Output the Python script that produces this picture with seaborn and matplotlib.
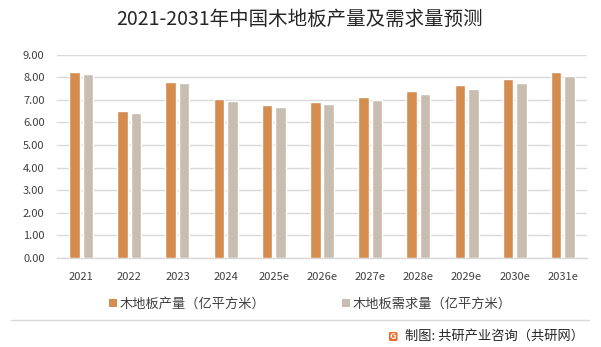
import matplotlib
matplotlib.use("Agg")
import matplotlib.pyplot as plt
import seaborn as sns
import pandas as pd
from matplotlib.patches import Patch, FancyBboxPatch
from matplotlib.lines import Line2D

years = ["2021", "2022", "2023", "2024", "2025e", "2026e", "2027e", "2028e", "2029e", "2030e", "2031e"]
production = [8.23, 6.51, 7.79, 7.04, 6.77, 6.91, 7.13, 7.39, 7.66, 7.92, 8.23]
demand = [8.14, 6.42, 7.75, 6.95, 6.69, 6.82, 7.00, 7.26, 7.48, 7.75, 8.06]
series_names = ["木地板产量（亿平方米）", "木地板需求量（亿平方米）"]
title = "2021-2031年中国木地板产量及需求量预测"
source = "制图: 共研产业咨询（共研网）"

colors = ["#D48C4F", "#C8BDB1"]

df = pd.DataFrame({
    "year": years * 2,
    "value": production + demand,
    "series": [series_names[0]] * len(years) + [series_names[1]] * len(years),
})

sns.set_theme(style="white")
plt.rcParams["font.family"] = ["Noto Sans CJK SC", "DejaVu Sans"]

W, H = 601, 347
fig = plt.figure(figsize=(W / 100, H / 100), dpi=100)
fig.patch.set_facecolor("white")

ax = fig.add_axes([57 / W, (H - 258) / H, 530 / W, (258 - 54.7) / H])
ax.set_facecolor("none")

sns.barplot(data=df, x="year", y="value", hue="series", order=years,
            hue_order=series_names, palette=colors, width=0.56, gap=0.22,
            saturation=1, legend=False, ax=ax, zorder=3)

ax.set_ylim(0, 9)
ax.set_yticks([i for i in range(10)])
ax.set_yticklabels([f"{i:.2f}" for i in range(10)])
ax.yaxis.grid(True, color="#D9D9D9", linewidth=1.0, zorder=0)
ax.set_axisbelow(True)
ax.set_xlabel("")
ax.set_ylabel("")
for s in ["top", "right", "left"]:
    ax.spines[s].set_visible(False)
ax.spines["bottom"].set_color("#D9D9D9")
ax.spines["bottom"].set_linewidth(1.0)
ax.tick_params(axis="both", length=0, labelsize=8, colors="#404040")
ax.tick_params(axis="x", pad=10)
ax.tick_params(axis="y", pad=9)

fig.text(300 / W, 1 - 19 / H, title, ha="center", va="center", fontsize=14, color="#262626")

handles = [Patch(facecolor=c, edgecolor="none") for c in colors]
fig.legend(handles, series_names, loc="center", bbox_to_anchor=(310 / W, 1 - 304 / H),
           ncol=2, frameon=False, fontsize=9.5, handlelength=0.6, handleheight=0.6,
           handletextpad=0.2, columnspacing=5.8, labelcolor="#404040")

fig.add_artist(Line2D([11 / W, 589 / W], [1 - 319.5 / H, 1 - 319.5 / H], color="#D9D9D9",
                      linewidth=1.0, transform=fig.transFigure))

logo = FancyBboxPatch((389 / W, 1 - 341 / H), 8.5 / W, 9 / H,
                      boxstyle="round,pad=0.0,rounding_size=0.003",
                      facecolor="#F0672A", edgecolor="none", transform=fig.transFigure)
fig.add_artist(logo)
fig.text(393.2 / W, 1 - 336.5 / H, "G", color="white", fontsize=6.5, fontweight="bold",
         ha="center", va="center")
fig.text(584 / W, 1 - 336 / H, source, ha="right", va="center", fontsize=9.5, color="#262626")

fig.savefig("out.png", dpi=100, facecolor="white")
